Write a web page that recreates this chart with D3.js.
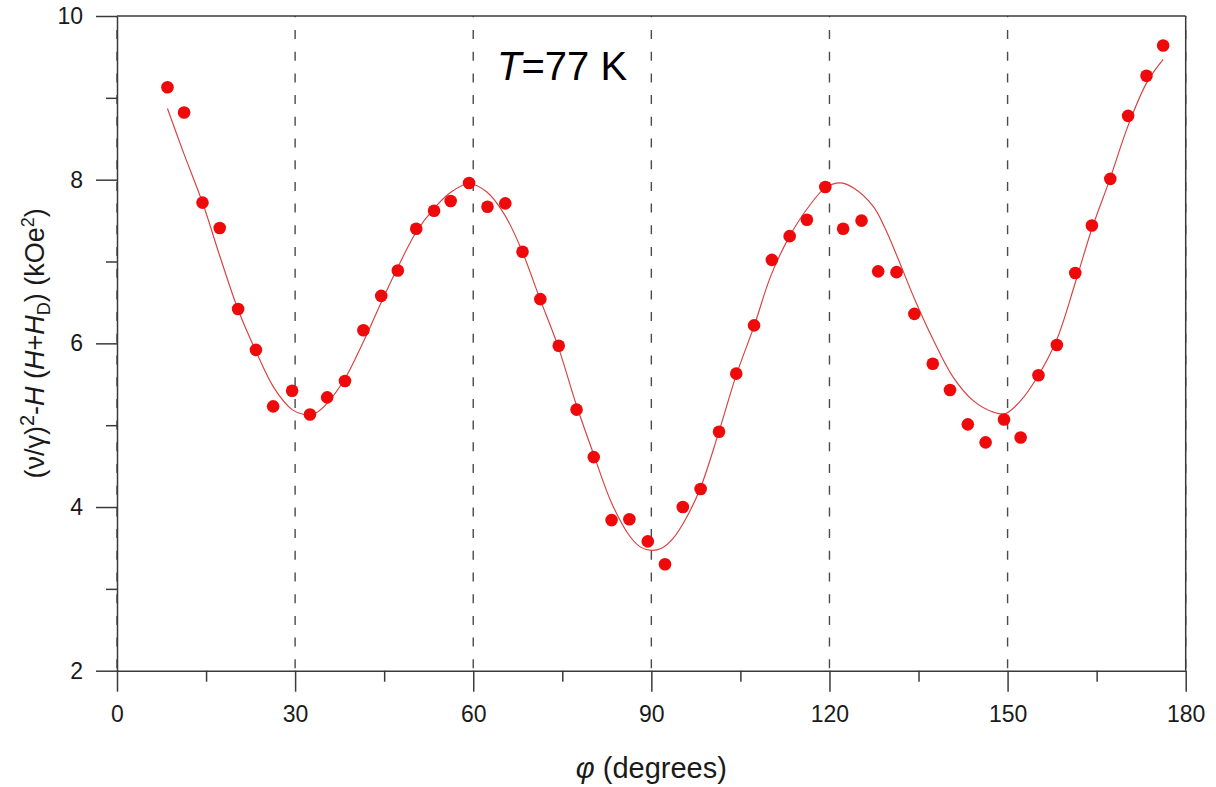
<!DOCTYPE html>
<html>
<head>
<meta charset="utf-8">
<script src="https://cdn.jsdelivr.net/npm/d3@7/dist/d3.min.js"></script>
<style>
  html, body { margin: 0; padding: 0; background: #fff; }
  svg { display: block; }
  text { font-family: "Liberation Sans", Arial, Helvetica, sans-serif; }
</style>
</head>
<body>
<svg id="chart" width="1216" height="787"></svg>
<script>
// ---- data ----
const phi = [8.5, 11.3, 14.4, 17.3, 20.4, 23.4, 26.3, 29.5, 32.5, 35.4, 38.4, 41.5, 44.5, 47.3, 50.4, 53.4, 56.2, 59.3, 62.4, 65.4, 68.3, 71.3, 74.4, 77.4, 80.3, 83.3, 86.3, 89.4, 92.3, 95.3, 98.3, 101.4, 104.3, 107.3, 110.3, 113.3, 116.2, 119.3, 122.3, 125.4, 128.2, 131.3, 134.3, 137.4, 140.3, 143.3, 146.3, 149.4, 152.2, 155.2, 158.3, 161.4, 164.2, 167.3, 170.3, 173.4, 176.2];
const measured = [9.13, 8.82, 7.72, 7.41, 6.42, 5.92, 5.23, 5.42, 5.13, 5.34, 5.54, 6.16, 6.58, 6.89, 7.40, 7.62, 7.74, 7.96, 7.67, 7.71, 7.12, 6.54, 5.97, 5.19, 4.61, 3.84, 3.85, 3.58, 3.30, 4.00, 4.22, 4.92, 5.63, 6.22, 7.02, 7.31, 7.51, 7.91, 7.40, 7.50, 6.88, 6.87, 6.36, 5.75, 5.43, 5.01, 4.79, 5.07, 4.85, 5.61, 5.98, 6.86, 7.44, 8.01, 8.78, 9.27, 9.64];

const fitPhi = [8.5, 11.2, 14.5, 17.3, 20.4, 23.3, 26.5, 29.5, 31.5, 33.5, 35.3, 38.4, 41.5, 44.5, 47.3, 50.4, 53.3, 56.1, 59.2, 62.3, 65.3, 68.1, 71.2, 74.3, 77.4, 80.3, 83.3, 86.4, 88.2, 90.0, 91.8, 93.7, 95.9, 98.2, 101.3, 104.2, 107.3, 110.2, 113.3, 116.4, 119.3, 121.8, 124.0, 127.4, 129.4, 131.3, 134.4, 137.5, 140.8, 144.2, 147.6, 149.6, 152.1, 155.2, 158.3, 161.4, 164.2, 167.2, 170.3, 173.4, 176.2];
const fitVals = [8.87, 8.33, 7.70, 7.07, 6.41, 5.92, 5.45, 5.19, 5.13, 5.15, 5.26, 5.57, 6.02, 6.50, 6.93, 7.36, 7.64, 7.84, 7.95, 7.85, 7.57, 7.15, 6.55, 5.96, 5.24, 4.64, 4.05, 3.64, 3.51, 3.47, 3.50, 3.62, 3.87, 4.22, 4.90, 5.59, 6.21, 6.84, 7.31, 7.66, 7.90, 7.96, 7.90, 7.67, 7.40, 7.08, 6.53, 6.04, 5.59, 5.30, 5.16, 5.14, 5.29, 5.61, 6.05, 6.74, 7.40, 8.00, 8.66, 9.18, 9.47];

const xMajorTicks = [0, 30, 60, 90, 120, 150, 180];
const xMinorTicks = [15, 45, 75, 105, 135, 165];
const yMajorTicks = [2, 4, 6, 8, 10];
const yMinorTicks = [3, 5, 7, 9];
const guideLines = [0, 30, 60, 90, 120, 150, 180];

// ---- layout ----
const svg = d3.select("#chart");
const L = 117, R = 1185.7, T = 16, B = 670.7;
const x = d3.scaleLinear().domain([0, 180]).range([L, R]);
const y = d3.scaleLinear().domain([2, 10]).range([B, T]);
const axisColor = "#3a3a3a";

// dashed guide lines
svg.append("g").selectAll("line").data(guideLines).join("line")
  .attr("x1", d => x(d)).attr("x2", d => x(d))
  .attr("y1", T).attr("y2", B)
  .attr("stroke", "#4a4a4a").attr("stroke-width", 1.4)
  .attr("stroke-dasharray", "9,12.7").attr("stroke-dashoffset", 7.7);

// frame top/right
svg.append("line").attr("x1", L).attr("x2", R).attr("y1", T).attr("y2", T)
  .attr("stroke", axisColor).attr("stroke-width", 1.5);
svg.append("line").attr("x1", R).attr("x2", R).attr("y1", T).attr("y2", B)
  .attr("stroke", axisColor).attr("stroke-width", 1.5);

function styleAxis(g) {
  g.selectAll("path, line").attr("stroke", axisColor).attr("stroke-width", 1.5);
  g.selectAll("text").attr("fill", "#1a1a1a").style("font-size", "23px")
    .style("font-family", "'Liberation Sans', Arial, sans-serif");
}

// x axis
const gx = svg.append("g").attr("transform", `translate(0,${B})`)
  .call(d3.axisBottom(x).tickValues(xMajorTicks).tickSize(21).tickSizeOuter(0).tickPadding(14).tickFormat(d3.format("d")));
styleAxis(gx);
const gxm = svg.append("g").attr("transform", `translate(0,${B})`)
  .call(d3.axisBottom(x).tickValues(xMinorTicks).tickSize(11).tickFormat(""));
gxm.select("path").remove();
styleAxis(gxm);

// y axis
const gy = svg.append("g").attr("transform", `translate(${L},0)`)
  .call(d3.axisLeft(y).tickValues(yMajorTicks).tickSize(21).tickSizeOuter(0).tickPadding(13).tickFormat(d3.format("d")));
styleAxis(gy);
const gym = svg.append("g").attr("transform", `translate(${L},0)`)
  .call(d3.axisLeft(y).tickValues(yMinorTicks).tickSize(11).tickFormat(""));
gym.select("path").remove();
styleAxis(gym);

// fit curve
const fitData = fitPhi.map((p, i) => [p, fitVals[i]]);
svg.append("path").datum(fitData)
  .attr("fill", "none").attr("stroke", "#d84040").attr("stroke-width", 1.15)
  .attr("d", d3.line().x(d => x(d[0])).y(d => y(d[1])).curve(d3.curveCatmullRom.alpha(0.5)));

// measured points
svg.append("g").selectAll("circle").data(phi.map((p, i) => [p, measured[i]])).join("circle")
  .attr("cx", d => x(d[0])).attr("cy", d => y(d[1])).attr("r", 6.3)
  .attr("fill", "#ee0a0a");

// title
const title = svg.append("text").attr("x", 497).attr("y", 80)
  .style("font-size", "40px").attr("fill", "#000");
title.append("tspan").style("font-style", "italic").text("T");
title.append("tspan").text("=77 K");

// x label
const xl = svg.append("text").attr("x", (L + R) / 2).attr("y", 778)
  .attr("text-anchor", "middle").style("font-size", "29px").attr("fill", "#1a1a1a");
xl.append("tspan").style("font-style", "italic").text("φ");
xl.append("tspan").text(" (degrees)");

// y label
const yl = svg.append("text").attr("transform", `translate(44,${(T + B) / 2}) rotate(-90)`)
  .attr("text-anchor", "middle").style("font-size", "27px").attr("fill", "#1a1a1a");
yl.append("tspan").text("(ν/γ)");
yl.append("tspan").attr("dy", -10).style("font-size", "20px").text("2");
yl.append("tspan").attr("dy", 10).text("-");
yl.append("tspan").style("font-style", "italic").text("H");
yl.append("tspan").text(" (");
yl.append("tspan").style("font-style", "italic").text("H");
yl.append("tspan").text("+");
yl.append("tspan").style("font-style", "italic").text("H");
yl.append("tspan").attr("dy", 6).style("font-size", "18px").text("D");
yl.append("tspan").attr("dy", -6).text(") (kOe");
yl.append("tspan").attr("dy", -10).style("font-size", "18px").text("2");
yl.append("tspan").attr("dy", 10).text(")");
</script>
</body>
</html>
